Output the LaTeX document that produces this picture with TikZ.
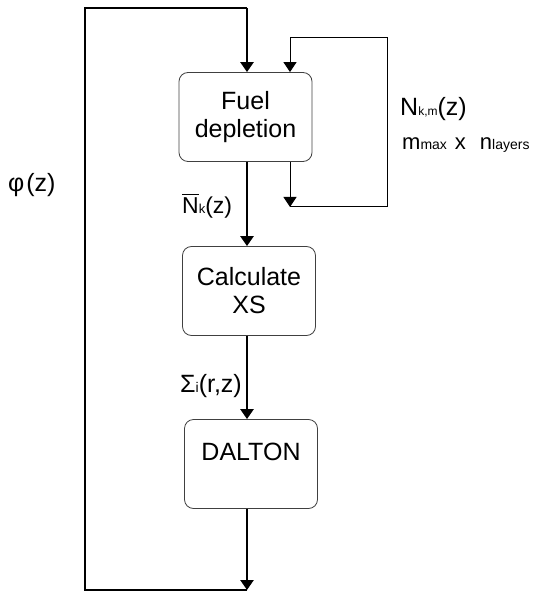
\documentclass[tikz,border=0pt]{standalone}
\usepackage{fontspec}
\setmainfont{Liberation Sans}
\usetikzlibrary{arrows.meta}

% small on-baseline index text
\newcommand{\ix}[2][13]{{\fontsize{#1}{#1}\selectfont #2}}

\begin{document}
\begin{tikzpicture}[x=1pt,y=-1pt,
  procbox/.style={draw=black!75,line width=0.8pt,rounded corners=9pt,
    minimum width=133pt,minimum height=89pt,align=center,
    font=\fontsize{25}{28}\selectfont,inner sep=0pt},
  mainline/.style={line width=2.8pt},
  thinline/.style={line width=1pt},
  tip/.style={-{Triangle[length=10pt,width=13pt]}},
  lbl/.style={anchor=base west,inner sep=0pt,font=\fontsize{24}{24}\selectfont}]

\useasboundingbox (0,0) rectangle (534,593);

% process boxes
\node[procbox] (fuel) at (245.5,117) {Fuel\\depletion};
\node[procbox] (calc) at (249,291) {Calculate\\XS};
\node[procbox,text height=18pt,text depth=26pt] (dalton) at (251,464) {DALTON};

% corner points of the loops
\coordinate (ltop) at (85,8);
\coordinate (lbot) at (85,590);
\coordinate (mtop) at (247,8);
\coordinate (mbot) at (247,590);
\coordinate (rin) at (290,38);
\coordinate (rinc) at (387,38);
\coordinate (rout) at (290,207);
\coordinate (routc) at (387,207);

% main chain
\draw[mainline,tip] (fuel.south -| mtop) -- (calc.north -| mtop);
\draw[mainline,tip] (calc.south -| mtop) -- (dalton.north -| mtop);
\draw[mainline,tip] (dalton.south -| mtop) -- (mbot);

% outer flux feedback loop
\draw[mainline,line join=miter] (mbot) -- (lbot) -- (ltop) -- (mtop);
\draw[mainline,tip] (mtop) -- (fuel.north -| mtop);

% inner depletion loop
\draw[thinline,tip] (fuel.south -| rout) -- (rout);
\draw[thinline] (rout) -- (routc) -- (rinc) -- (rin);
\draw[thinline,tip] (rin) -- (fuel.north -| rin);

% labels
\node[lbl,font=\fontsize{25}{25}\selectfont] (phi) at (8,192) {φ\hspace{2pt}(z)};
\node[lbl,font=\fontsize{23}{23}\selectfont] (nbar) at (182,214) {$\overline{\mbox{N}\vphantom{\rule{0pt}{18pt}}}$\ix{k}(z)};
\node[lbl,font=\fontsize{25}{25}\selectfont] (sig) at (180,392) {Σ\ix[14]{i}(r,z)};
\node[lbl,font=\fontsize{25}{25}\selectfont] (nkm) at (400,116) {N\ix[12]{k,m}(z)};
\node[lbl,font=\fontsize{22}{22}\selectfont] (mn) at (402,150) {m\ix[14]{max}\hspace{8pt}x\hspace{14pt}n\ix[14]{layers}};

\end{tikzpicture}
\end{document}
